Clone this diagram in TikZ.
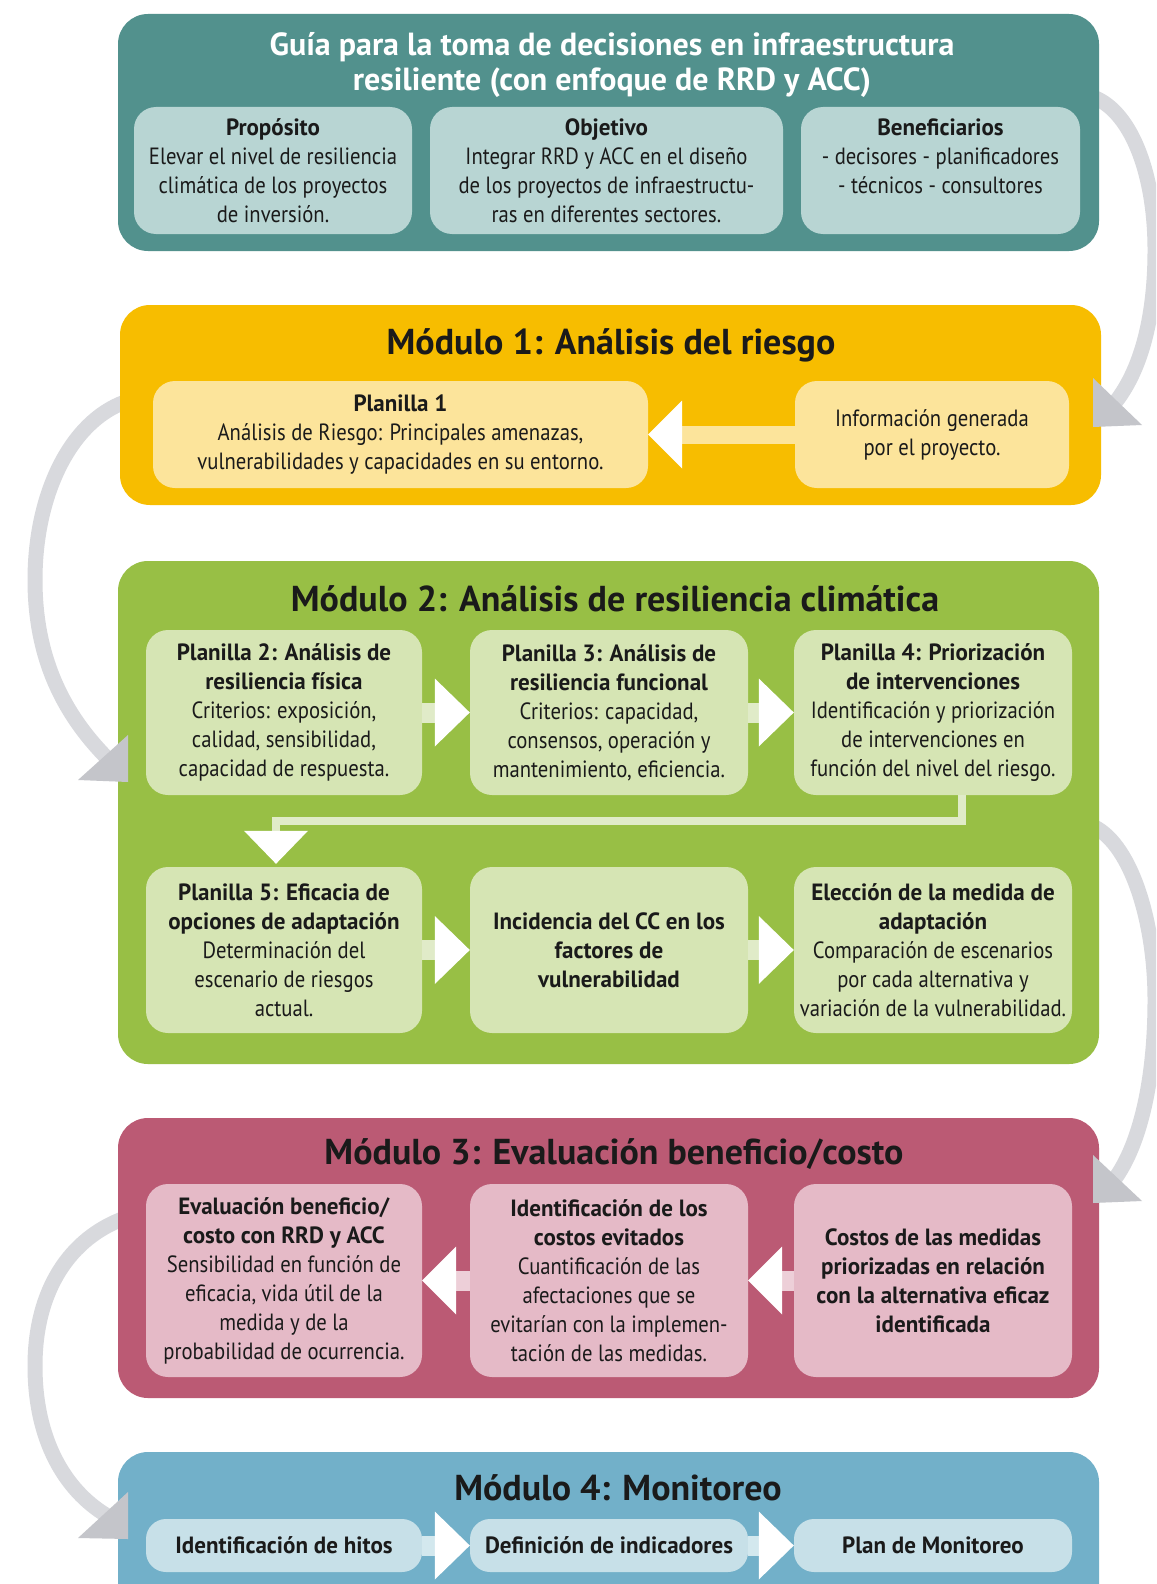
\documentclass[tikz,border=0pt]{standalone}
\usepackage{fontspec}
\setmainfont{PT Sans}[FakeStretch=0.88, BoldFeatures={FakeStretch=0.98}]
\usetikzlibrary{calc}
\definecolor{tealO}{HTML}{52918D}
\definecolor{tealI}{HTML}{B8D5D3}
\definecolor{yelO}{HTML}{F7BD00}
\definecolor{yelI}{HTML}{FCE49B}
\definecolor{grnO}{HTML}{98BF45}
\definecolor{grnI}{HTML}{D6E5B4}
\definecolor{grnB}{HTML}{E0EBC8}
\definecolor{rosO}{HTML}{BB5A74}
\definecolor{rosI}{HTML}{E5BAC7}
\definecolor{rosB}{HTML}{EDCFD8}
\definecolor{bluO}{HTML}{72B0C9}
\definecolor{bluI}{HTML}{C7E0E8}
\definecolor{bluB}{HTML}{D3E8EE}
\definecolor{grayL}{HTML}{D8D9DD}
\definecolor{grayT}{HTML}{C4C5CA}
\definecolor{txt}{HTML}{1A1A1A}
\newfontfamily\titlefont{PT Sans}[BoldFeatures={FakeStretch=1.0}]
\newcommand{\rArr}[4]{%
  \draw[line width=#4, draw=#3] (#1.east) -- ($(#2.west)+(-30,0)$);
  \fill[white] (#2.west) -- ++(-35,-34) -- ++(0,68) -- cycle;}
\newcommand{\lArr}[4]{%
  \draw[line width=#4, draw=#3] (#1.west) -- ($(#2.east)+(30,0)$);
  \fill[white] (#2.east) -- ++(34,-34) -- ++(0,68) -- cycle;}
\begin{document}
\begin{tikzpicture}[x=1pt,y=-1pt,
  outerbox/.style={rounded corners=30pt, inner sep=0pt, minimum width=981pt},
  ibox/.style={rounded corners=22pt, inner sep=0pt, align=center, font=\fontsize{23.5}{29}\selectfont, text=txt},
  mtitle/.style={font=\titlefont\bfseries\fontsize{36}{40}\selectfont, inner sep=0pt, text=txt},
  grayarc/.style={line width=15pt, draw=grayL},
  graytip/.style={fill=grayT}]
\useasboundingbox (0,0) rectangle (1156,1584);
\clip (0,0) rectangle (1156,1584);
\fill[white] (0,0) rectangle (1156,1584);

% gray curved arrows (behind)
\coordinate (a1s) at (1090,96);
\coordinate (a1m) at (1155,250);
\coordinate (a1e) at (1114,404);
\draw[grayarc] (a1s) .. controls (1130,108) and (1155,172) .. (a1m) .. controls (1155,320) and (1140,372) .. (a1e);
\coordinate (a2s) at (125,402);
\coordinate (a2m) at (35,580);
\coordinate (a2e) at (106,757);
\draw[grayarc] (a2s) .. controls (70,422) and (35,495) .. (a2m) .. controls (35,660) and (65,715) .. (a2e);
\coordinate (a3s) at (1090,825);
\coordinate (a3m) at (1155,1000);
\coordinate (a3e) at (1114,1180);
\draw[grayarc] (a3s) .. controls (1130,840) and (1155,920) .. (a3m) .. controls (1155,1080) and (1140,1145) .. (a3e);
\coordinate (a4s) at (125,1218);
\coordinate (a4m) at (35,1366);
\coordinate (a4e) at (106,1515);
\draw[grayarc] (a4s) .. controls (70,1238) and (35,1290) .. (a4m) .. controls (35,1440) and (65,1490) .. (a4e);

% ===== Top box =====
\node[outerbox, fill=tealO, minimum height=237pt] (top) at (608.5,132.5) {};
\node[inner sep=0pt, align=center, text=white, font=\titlefont\bfseries\fontsize{32}{35}\selectfont] (toptitle) at (612,65)
  {Guía para la toma de decisiones en infraestructura\\resiliente (con enfoque de RRD y ACC)};
\node[ibox, fill=tealI, minimum width=278pt, minimum height=127pt] (prop) at (273,170.5)
  {\textbf{Propósito}\\Elevar el nivel de resiliencia\\climática de los proyectos\\de inversión.};
\node[ibox, fill=tealI, minimum width=353pt, minimum height=127pt] (obj) at (606.5,170.5)
  {\textbf{Objetivo}\\Integrar RRD y ACC en el diseño\\de los proyectos de infraestructu-\\ras en diferentes sectores.};
\node[ibox, fill=tealI, minimum width=279pt, minimum height=127pt] (ben) at (940.5,170.5)
  {\textbf{Beneficiarios}\\- decisores - planificadores\\- técnicos - consultores\\\mbox{}};

% ===== Module 1 =====
\node[outerbox, fill=yelO, minimum height=200pt] (m1) at (610.5,405) {};
\node[mtitle] (m1t) at (611,345) {Módulo 1: Análisis del riesgo};
\node[ibox, fill=yelI, minimum width=495pt, minimum height=107pt] (p1) at (400.5,434.5)
  {\textbf{Planilla 1}\\Análisis de Riesgo: Principales amenazas,\\vulnerabilidades y capacidades en su entorno.};
\node[ibox, fill=yelI, minimum width=274pt, minimum height=107pt] (info) at (932,434.5)
  {Información generada\\por el proyecto.};
\lArr{info}{p1}{yelI}{18pt}

% ===== Module 2 =====
\node[outerbox, fill=grnO, minimum height=503pt] (m2) at (608.5,812.5) {};
\node[mtitle] (m2t) at (615,599) {Módulo 2: Análisis de resiliencia climática};
\node[ibox, fill=grnI, minimum width=276pt, minimum height=165pt] (b1) at (284,712.5)
  {\textbf{Planilla 2: Análisis de}\\\textbf{resiliencia física}\\Criterios: exposición,\\calidad, sensibilidad,\\capacidad de respuesta.};
\node[ibox, fill=grnI, minimum width=278pt, minimum height=165pt] (b2) at (609,712.5)
  {\textbf{Planilla 3: Análisis de}\\\textbf{resiliencia funcional}\\Criterios: capacidad,\\consensos, operación y\\mantenimiento, eficiencia.};
\node[ibox, fill=grnI, minimum width=278pt, minimum height=165pt] (b3) at (933,712.5)
  {\textbf{Planilla 4: Priorización}\\\textbf{de intervenciones}\\Identificación y priorización\\de intervenciones en\\función del nivel del riesgo.};
\node[ibox, fill=grnI, minimum width=276pt, minimum height=166pt] (b4) at (284,950)
  {\textbf{Planilla 5: Eficacia de}\\\textbf{opciones de adaptación}\\Determinación del\\escenario de riesgos\\actual.};
\node[ibox, fill=grnI, minimum width=278pt, minimum height=166pt] (b5) at (609,950)
  {\textbf{Incidencia del CC en los}\\\textbf{factores de}\\\textbf{vulnerabilidad}};
\node[ibox, fill=grnI, minimum width=278pt, minimum height=166pt] (b6) at (933,950)
  {\textbf{Elección de la medida de}\\\textbf{adaptación}\\Comparación de escenarios\\por cada alternativa y\\variación de la vulnerabilidad.};
\rArr{b1}{b2}{grnB}{20pt}
\rArr{b2}{b3}{grnB}{20pt}
\rArr{b4}{b5}{grnB}{20pt}
\rArr{b5}{b6}{grnB}{20pt}
\coordinate (c1) at (962,821);
\coordinate (c2) at (276,821);
\draw[line width=8pt, draw=grnB] (b3.south -| c1) -- (c1) -- (c2) -- ($(c2)+(0,14)$);
\fill[white] ($(b4.north -| c2)+(-32,-36)$) -- ($(b4.north -| c2)+(32,-36)$) -- ($(b4.north -| c2)+(0,-3)$) -- cycle;

% ===== Module 3 =====
\node[outerbox, fill=rosO, minimum height=280pt] (m3) at (608.5,1258) {};
\node[mtitle] (m3t) at (614,1154) {Módulo 3: Evaluación beneficio/costo};
\node[ibox, fill=rosI, minimum width=276pt, minimum height=193pt] (r1) at (284,1280.5)
  {\textbf{Evaluación beneficio/}\\\textbf{costo con RRD y ACC}\\Sensibilidad en función de\\eficacia, vida útil de la\\medida y de la\\probabilidad de ocurrencia.};
\node[ibox, fill=rosI, minimum width=278pt, minimum height=193pt] (r2) at (609,1280.5)
  {\textbf{Identificación de los}\\\textbf{costos evitados}\\Cuantificación de las\\afectaciones que se\\evitarían con la implemen-\\tación de las medidas.};
\node[ibox, fill=rosI, minimum width=278pt, minimum height=193pt] (r3) at (933,1280.5)
  {\textbf{Costos de las medidas}\\\textbf{priorizadas en relación}\\\textbf{con la alternativa eficaz}\\\textbf{identificada}};
\lArr{r2}{r1}{rosB}{20pt}
\lArr{r3}{r2}{rosB}{20pt}

% ===== Module 4 =====
\node[outerbox, fill=bluO, minimum height=168pt] (m4) at (608.5,1536) {};
\node[mtitle] (m4t) at (618,1488) {Módulo 4: Monitoreo};
\node[ibox, fill=bluI, minimum width=276pt, minimum height=53pt, rounded corners=20pt] (h1) at (284,1545.5)
  {\textbf{Identificación de hitos}};
\node[ibox, fill=bluI, minimum width=278pt, minimum height=53pt, rounded corners=20pt] (h2) at (609,1545.5)
  {\textbf{Definición de indicadores}};
\node[ibox, fill=bluI, minimum width=278pt, minimum height=53pt, rounded corners=20pt] (h3) at (933,1545.5)
  {\textbf{Plan de Monitoreo}};
\rArr{h1}{h2}{bluB}{20pt}
\rArr{h2}{h3}{bluB}{20pt}

% gray arrow tips (on top)
\fill[graytip] (1093,378) -- (1093,427) -- (1142,425) -- cycle;
\fill[graytip] (128,735) -- (128,782) -- (78,780) -- cycle;
\fill[graytip] (1093,1155) -- (1093,1203) -- (1142,1201) -- cycle;
\fill[graytip] (128,1492) -- (128,1539) -- (78,1538) -- cycle;
\end{tikzpicture}
\end{document}
